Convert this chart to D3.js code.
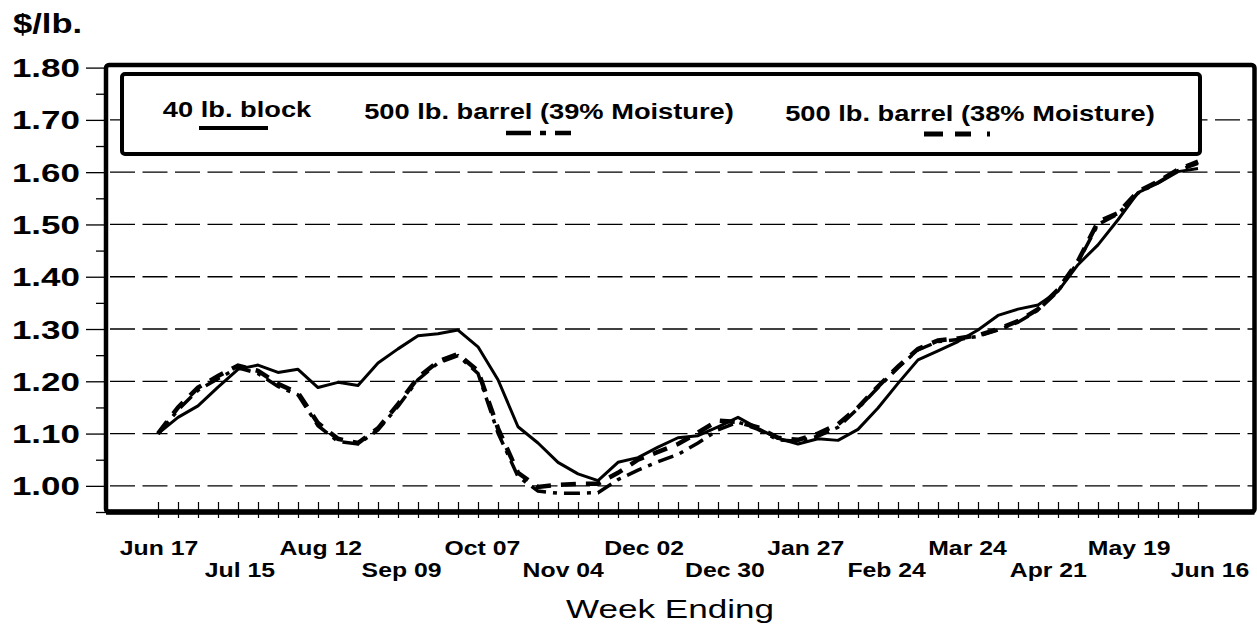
<!DOCTYPE html>
<html>
<head>
<meta charset="utf-8">
<script src="https://cdn.jsdelivr.net/npm/d3@7"></script>
<style>
  html, body { margin: 0; padding: 0; background: #fff; }
  svg { display: block; }
  text { font-family: "Liberation Sans", Arial, sans-serif; fill: #000; }
</style>
</head>
<body>
<svg id="chart" width="1257" height="624"></svg>
<script>
// ---- data ----
const weekLabels = ["Jun 17","Jul 15","Aug 12","Sep 09","Oct 07","Nov 04","Dec 02","Dec 30","Jan 27","Feb 24","Mar 24","Apr 21","May 19","Jun 16"];
const yTicks = [1.00, 1.10, 1.20, 1.30, 1.40, 1.50, 1.60, 1.70, 1.80];
const yMinorTicks = [0.95, 1.05, 1.15, 1.25, 1.35, 1.45, 1.55, 1.65, 1.75];
const seriesNames = ["40 lb. block", "500 lb. barrel (39% Moisture)", "500 lb. barrel (38% Moisture)"];

const block = [1.100,1.131,1.153,1.189,1.223,1.231,1.217,1.223,1.188,1.198,1.192,1.235,1.262,1.287,1.291,1.298,1.266,1.203,1.113,1.082,1.045,1.023,1.010,1.045,1.054,1.074,1.092,1.096,1.113,1.131,1.110,1.091,1.080,1.090,1.087,1.108,1.149,1.196,1.241,1.258,1.276,1.298,1.326,1.338,1.346,1.372,1.423,1.461,1.509,1.561,1.579,1.601,1.607];
const barrel39 = [1.100,1.145,1.183,1.205,1.226,1.215,1.190,1.174,1.115,1.085,1.080,1.107,1.152,1.203,1.235,1.249,1.215,1.101,1.018,0.990,0.986,0.986,0.987,1.012,1.030,1.046,1.060,1.082,1.107,1.122,1.108,1.088,1.085,1.095,1.112,1.148,1.188,1.226,1.260,1.276,1.280,1.286,1.298,1.313,1.336,1.372,1.428,1.500,1.520,1.560,1.580,1.603,1.617];
const barrel38 = [1.100,1.150,1.188,1.210,1.230,1.220,1.195,1.178,1.120,1.090,1.082,1.110,1.156,1.207,1.238,1.252,1.220,1.110,1.025,0.998,1.002,1.004,1.004,1.025,1.050,1.065,1.080,1.102,1.125,1.122,1.112,1.092,1.088,1.100,1.118,1.150,1.190,1.228,1.262,1.278,1.282,1.288,1.300,1.315,1.338,1.375,1.430,1.505,1.522,1.563,1.582,1.605,1.620];

// ---- layout ----
const svg = d3.select("#chart");
const frame = {left: 106, top: 65, right: 1254.5, bottom: 512};
const x = d3.scaleLinear().domain([0, 52]).range([158, 1198]);
const xLab = d3.scaleLinear().domain([0, 52]).range([159, 1210]);
const y = d3.scaleLinear().domain([0.95, 1.80]).range([512, 67.6]);

function sText(g, tx, ty, str, opts) {
  return g.append("text")
    .attr("transform", `translate(${tx},${ty}) scale(${opts.sx || 1},1)`)
    .attr("text-anchor", opts.anchor || "start")
    .style("font-size", opts.size + "px")
    .style("font-weight", opts.weight || "bold")
    .text(str);
}

// grid lines (dashed)
svg.append("g").selectAll("line").data(yTicks.filter(d => d < 1.8)).join("line")
  .attr("x1", frame.left).attr("x2", frame.right)
  .attr("y1", d => y(d)).attr("y2", d => y(d))
  .attr("stroke", "#000").attr("stroke-width", 1.3)
  .attr("stroke-dasharray", "25,7.5")
  .attr("stroke-dashoffset", -4);

// y axis major ticks + labels
const yAxis = d3.axisLeft(y).tickValues(yTicks).tickSize(20).tickPadding(6).tickFormat(d3.format(".2f"));
const gy = svg.append("g").attr("transform", `translate(${frame.left},0)`).call(yAxis);
gy.select(".domain").remove();
gy.selectAll(".tick line").attr("stroke", "#000").attr("stroke-width", 1.3);
gy.selectAll(".tick text")
  .attr("x", null).attr("dy", null)
  .attr("transform", "translate(-26,9) scale(1.4,1)")
  .style("font-size", "25px").style("font-weight", "bold")
  .style("font-family", "'Liberation Sans', Arial, sans-serif").attr("fill", "#000");

// y minor ticks
const yMinor = d3.axisLeft(y).tickValues(yMinorTicks).tickSize(10).tickFormat("");
const gym = svg.append("g").attr("transform", `translate(${frame.left},0)`).call(yMinor);
gym.select(".domain").remove();
gym.selectAll(".tick line").attr("stroke", "#000").attr("stroke-width", 1.3);

// x ticks every week
const weekIdx = d3.range(0, 53);
const xAxis = d3.axisBottom(x).tickValues(weekIdx).tickSize(16).tickFormat("");
const gx = svg.append("g").attr("transform", `translate(0,${frame.bottom - 10})`).call(xAxis);
gx.select(".domain").remove();
gx.selectAll(".tick line").attr("stroke", "#000").attr("stroke-width", 1.2);

// x labels, alternating rows
weekLabels.forEach((lab, i) => {
  const wk = i * 4;
  const row = i % 2;
  sText(svg, xLab(wk), row === 0 ? 555 : 577, lab, {anchor: "middle", size: 21, sx: 1.18});
});

// series
const line = d3.line().x((d, i) => x(i)).y(d => y(d)).curve(d3.curveLinear);
svg.append("path").datum(barrel39).attr("d", line)
  .attr("fill", "none").attr("stroke", "#000").attr("stroke-width", 3.5)
  .attr("stroke-dasharray", "16,7,4,7");
svg.append("path").datum(barrel38).attr("d", line)
  .attr("fill", "none").attr("stroke", "#000").attr("stroke-width", 4.5)
  .attr("stroke-dasharray", "15,10");
svg.append("path").datum(block).attr("d", line)
  .attr("fill", "none").attr("stroke", "#000").attr("stroke-width", 3)
  .attr("stroke-linejoin", "round");

// frame
svg.append("rect")
  .attr("x", frame.left).attr("y", frame.top)
  .attr("width", frame.right - frame.left).attr("height", frame.bottom - frame.top)
  .attr("rx", 3).attr("fill", "none").attr("stroke", "#000").attr("stroke-width", 4.5);
svg.append("line").attr("x1", frame.left).attr("x2", frame.right)
  .attr("y1", frame.bottom).attr("y2", frame.bottom)
  .attr("stroke", "#000").attr("stroke-width", 5.5);

// legend
const lg = svg.append("g");
lg.append("rect").attr("x", 122).attr("y", 74).attr("width", 1078).attr("height", 80)
  .attr("rx", 3).attr("fill", "#fff").attr("stroke", "#000").attr("stroke-width", 4);
sText(lg, 237, 117, seriesNames[0], {anchor: "middle", size: 22, sx: 1.24});
sText(lg, 549, 119, seriesNames[1], {anchor: "middle", size: 22, sx: 1.24});
sText(lg, 970, 121, seriesNames[2], {anchor: "middle", size: 22, sx: 1.24});
lg.append("line").attr("x1", 199).attr("x2", 268).attr("y1", 128).attr("y2", 128)
  .attr("stroke", "#000").attr("stroke-width", 4);
lg.append("line").attr("x1", 506).attr("x2", 571).attr("y1", 133).attr("y2", 133)
  .attr("stroke", "#000").attr("stroke-width", 4.5).attr("stroke-dasharray", "25,9,6,9,16");
lg.append("line").attr("x1", 924).attr("x2", 990).attr("y1", 134).attr("y2", 134)
  .attr("stroke", "#000").attr("stroke-width", 5).attr("stroke-dasharray", "19,12,16,16,3");

// axis titles
sText(svg, 13, 33, "$/lb.", {anchor: "start", size: 27, sx: 1.28});
sText(svg, 670, 618, "Week Ending", {anchor: "middle", size: 26, weight: "normal", sx: 1.35});
</script>
</body>
</html>
